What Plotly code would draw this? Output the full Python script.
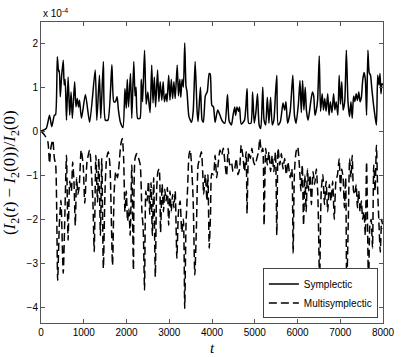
import plotly.graph_objects as go

# relative deviation of the invariant I2, in units of 1e-4
t_sym = [0, 122, 199, 252, 313, 340, 382, 413, 428, 451, 481, 520, 542, 565, 596, 634, 672, 703, 733, 787,
         817, 848, 878, 901, 947, 1039, 1138, 1268, 1306, 1367, 1398, 1459, 1505, 1566, 1658, 1703, 1742, 1780,
         1811, 1857, 1918, 1964, 1995, 2018, 2048, 2093, 2124, 2170, 2200, 2223, 2261, 2315, 2345, 2376, 2422,
         2460, 2498, 2529, 2552, 2590, 2620, 2651, 2681, 2727, 2757, 2788, 2826, 2857, 2887, 2926, 2948, 2987,
         3017, 3048, 3078, 3109, 3139, 3186, 3216, 3247, 3270, 3300, 3330, 3362, 3392, 3415, 3461, 3522, 3560,
         3606, 3652, 3675, 3729, 3768, 3798, 3844, 3890, 3935, 3958, 3996, 4034, 4072, 4133, 4187, 4240, 4301,
         4362, 4401, 4454, 4492, 4530, 4553, 4584, 4622, 4645, 4683, 4760, 4820, 4858, 4911, 4950, 4988, 5026,
         5064, 5103, 5141, 5187, 5218, 5256, 5294, 5332, 5370, 5409, 5447, 5485, 5516, 5546, 5600, 5661, 5699,
         5730, 5768, 5829, 5890, 5929, 5967, 6020, 6058, 6089, 6119, 6150, 6180, 6211, 6249, 6302, 6348, 6379,
         6409, 6440, 6470, 6509, 6539, 6577, 6608, 6638, 6669, 6707, 6738, 6768, 6806, 6844, 6875, 6905, 6944,
         6975, 7005, 7035, 7066, 7104, 7143, 7181, 7219, 7250, 7280, 7311, 7341, 7372, 7402, 7433, 7463, 7494,
         7525, 7555, 7586, 7616, 7647, 7677, 7708, 7738, 7777, 7815, 7846, 7876, 7907, 7930, 7953, 7976, 7999]
v_sym = [0.00, 0.06, 0.36, 0.10, 0.36, 0.37, 1.69, 1.35, 1.38, 0.78, 1.23, 1.61, 1.05, 1.18, 0.25, 1.23, 0.36,
         0.89, 0.29, 1.12, 0.55, 0.74, 0.55, 0.70, 0.29, 0.83, 0.20, 1.39, 0.25, 1.27, 0.29, 1.58, 0.25, 0.25,
         1.51, 0.67, 0.67, 0.78, 0.48, 0.20, 0.08, 0.97, 0.52, 1.18, 0.55, 1.31, 0.29, 1.58, 0.80, 1.00, 0.29,
         0.29, 1.18, 0.67, 1.84, 0.61, 0.89, 0.61, 0.42, 1.50, 0.64, 1.23, 0.55, 1.39, 0.67, 1.12, 0.70, 1.12,
         0.67, 0.85, 0.67, 1.27, 0.70, 1.18, 0.74, 1.12, 0.74, 1.50, 0.80, 1.18, 0.77, 1.18, 1.00, 2.00, 1.02,
         0.90, 0.33, 0.20, 0.45, 1.58, 0.45, 0.22, 1.00, 0.25, 0.20, 0.80, 0.90, 1.31, 1.30, 0.59, 0.55, 0.20,
         0.48, 0.36, 0.23, 0.18, 0.83, 0.23, 0.14, 0.36, 0.55, 0.36, 0.55, 0.45, 0.55, 0.16, 0.25, 0.97, 0.18,
         0.18, 0.89, 0.18, 0.42, 0.85, 0.14, 0.06, 1.00, 0.25, 0.14, 0.77, 0.18, 0.77, 0.14, 0.25, 0.85, 1.27,
         0.14, 0.22, 0.64, 0.48, 0.67, 0.18, 0.45, 1.27, 0.36, 0.18, 0.61, 1.15, 0.42, 1.15, 0.48, 1.00, 0.45,
         0.25, 0.61, 0.89, 0.80, 0.36, 0.48, 0.70, 1.71, 0.45, 0.85, 0.48, 0.74, 0.45, 0.85, 0.36, 0.67, 0.42,
         0.85, 0.48, 0.67, 0.36, 1.27, 0.61, 1.12, 0.48, 0.67, 1.84, 0.67, 0.33, 0.67, 0.29, 0.80, 0.67, 0.85,
         0.70, 0.89, 0.67, 0.77, 1.15, 1.33, 1.18, 0.36, 1.84, 1.33, 1.27, 0.97, 0.61, 0.33, 0.14, 1.27, 1.05,
         1.31, 0.85, 1.08, 1.05]

t_multi = [0, 84, 160, 199, 229, 275, 313, 344, 390, 428, 466, 520, 558, 596, 634, 672, 710, 741, 771, 802,
           833, 863, 894, 940, 986, 1024, 1077, 1138, 1176, 1214, 1245, 1283, 1322, 1352, 1390, 1421, 1459,
           1497, 1535, 1574, 1612, 1673, 1712, 1750, 1788, 1826, 1864, 1902, 1933, 1964, 1995, 2025, 2056,
           2086, 2124, 2162, 2200, 2246, 2284, 2322, 2361, 2391, 2422, 2452, 2483, 2513, 2544, 2574, 2605,
           2636, 2674, 2704, 2735, 2765, 2796, 2834, 2865, 2895, 2926, 2956, 2987, 3017, 3048, 3078, 3109,
           3139, 3178, 3216, 3254, 3293, 3331, 3362, 3392, 3430, 3461, 3491, 3522, 3560, 3598, 3637, 3675,
           3713, 3752, 3782, 3805, 3844, 3882, 3905, 3935, 3965, 3996, 4034, 4072, 4110, 4149, 4187, 4225,
           4263, 4301, 4340, 4378, 4416, 4454, 4492, 4530, 4568, 4607, 4645, 4683, 4721, 4760, 4798, 4820,
           4858, 4896, 4934, 4973, 5011, 5049, 5087, 5118, 5156, 5187, 5218, 5256, 5294, 5332, 5370, 5409,
           5447, 5485, 5516, 5546, 5585, 5623, 5661, 5699, 5738, 5776, 5829, 5867, 5898, 5929, 5967, 6005,
           6043, 6081, 6112, 6142, 6173, 6203, 6234, 6264, 6295, 6325, 6364, 6402, 6440, 6478, 6517, 6555,
           6593, 6631, 6669, 6707, 6745, 6784, 6822, 6860, 6898, 6936, 6975, 7005, 7035, 7066, 7097, 7127,
           7151, 7189, 7219, 7250, 7280, 7311, 7341, 7372, 7402, 7433, 7463, 7494, 7525, 7555, 7586, 7616,
           7662, 7693, 7723, 7754, 7784, 7815, 7846, 7876, 7907, 7937, 7968, 7999]
v_multi = [0.00, -0.09, -0.24, -0.73, -0.39, -0.20, -0.62, -0.77, -3.39, -2.14, -1.57, -3.23, -1.91, -0.55,
           -2.48, -1.14, -1.36, -0.70, -1.14, -2.14, -1.06, -1.44, -1.25, -0.43, -0.77, -1.64, -0.70, -0.43,
           -0.86, -1.61, -2.74, -0.55, -1.61, -0.62, -2.37, -0.62, -3.12, -1.36, -0.62, -0.47, -0.77, -3.05,
           -1.36, -0.92, -1.06, -0.77, -0.32, -0.17, -0.62, -1.83, -1.36, -2.05, -1.76, -2.37, -0.77, -3.16,
           -0.62, -0.51, -0.62, -0.77, -1.83, -2.22, -3.61, -1.36, -1.59, -1.14, -1.89, -1.17, -2.37, -1.06,
           -3.31, -1.36, -0.92, -0.86, -2.30, -1.21, -1.83, -1.32, -1.59, -1.28, -2.14, -1.36, -1.83, -1.44,
           -1.74, -1.36, -2.89, -1.83, -1.59, -2.30, -2.00, -4.03, -2.14, -1.28, -0.55, -0.43, -0.77, -1.59,
           -3.27, -2.14, -0.77, -0.62, -0.47, -0.92, -1.44, -0.99, -1.59, -0.99, -2.66, -1.90, -0.96, -0.99,
           -0.55, -1.06, -0.70, -0.43, -0.55, -0.39, -0.70, -1.02, -0.39, -0.77, -0.70, -0.92, -0.86, -0.62,
           -0.99, -0.86, -0.32, -0.55, -0.92, -0.47, -1.87, -0.47, -0.62, -0.39, -0.70, -0.77, -0.62, -0.47,
           -0.17, -0.47, -0.39, -2.14, -0.39, -0.77, -0.47, -0.92, -0.55, -0.92, -0.47, -2.36, -0.39, -0.77,
           -0.51, -0.86, -0.62, -0.99, -0.70, -1.06, -0.86, -2.78, -0.92, -0.47, -0.36, -0.77, -1.36, -0.77,
           -2.14, -0.99, -1.83, -0.86, -1.36, -0.99, -1.67, -0.92, -1.21, -0.86, -1.52, -3.46, -1.36, -0.99,
           -1.67, -1.14, -1.83, -1.21, -1.59, -1.14, -2.00, -1.14, -0.99, -0.62, -1.36, -0.86, -1.06, -1.74,
           -1.06, -3.58, -2.00, -0.62, -1.06, -0.55, -1.36, -1.44, -1.21, -1.74, -1.36, -1.83, -1.59, -2.00,
           -1.83, -2.37, -0.70, -3.58, -2.14, -2.00, -2.66, -0.77, -1.36, -0.32, -1.36, -2.14, -2.75, -2.00,
           -2.22]

x_ticks = [0, 1000, 2000, 3000, 4000, 5000, 6000, 7000, 8000]
y_ticks = [-4, -3, -2, -1, 0, 1, 2]

fig = go.Figure()
fig.add_trace(go.Scatter(x=t_sym, y=v_sym, mode='lines', name='Symplectic',
                         line=dict(color='black', width=1.5, shape='spline', smoothing=0.6)))
fig.add_trace(go.Scatter(x=t_multi, y=v_multi, mode='lines', name='Multisymplectic',
                         line=dict(color='black', width=1.5, dash='8px,4px', shape='spline', smoothing=0.6)))

axis_style = dict(showgrid=False, zeroline=False, showline=True, linecolor='#555555', linewidth=1,
                  mirror='ticks', ticks='inside', ticklen=4, tickcolor='#555555',
                  tickfont=dict(family='Liberation Sans, Arial', size=10, color='black'))

fig.update_xaxes(range=[0, 8000], tickvals=x_ticks, **axis_style)
fig.update_yaxes(range=[-4.36, 2.48], tickvals=y_ticks, **axis_style)

fig.update_layout(
    width=407, height=357,
    margin=dict(l=41, r=17, t=22, b=34),
    plot_bgcolor='white', paper_bgcolor='white',
    showlegend=True,
    legend=dict(x=0.985, y=0.015, xanchor='right', yanchor='bottom',
                bgcolor='white', bordercolor='#444444', borderwidth=1,
                font=dict(family='Liberation Sans, Arial', size=10, color='black'),
                tracegroupgap=0, itemwidth=30),
    annotations=[
        dict(text='x 10<sup>-4</sup>', xref='paper', yref='paper', x=0, y=1.03,
             xanchor='left', yanchor='middle', showarrow=False,
             font=dict(family='Liberation Sans, Arial', size=10, color='black')),
        dict(text='<i>t</i>', xref='paper', yref='paper', x=0.5, y=-0.05,
             xanchor='center', yanchor='top', showarrow=False,
             font=dict(family='Liberation Serif, Times New Roman', size=15, color='black')),
        dict(text='(<i>I</i><sub>2</sub>(<i>t</i>) \u2212 <i>I</i><sub>2</sub>(0))/<i>I</i><sub>2</sub>(0)',
             xref='paper', yref='paper', x=-0.089, y=0.5, textangle=-90,
             xanchor='center', yanchor='middle', showarrow=False,
             font=dict(family='Liberation Serif, Times New Roman', size=17, color='black')),
    ],
)

# the page body has a default 8px margin; drop it so the figure fills the window
fig.write_html("out.html", config={'displayModeBar': False},
               post_script="document.body.style.margin='0';")
